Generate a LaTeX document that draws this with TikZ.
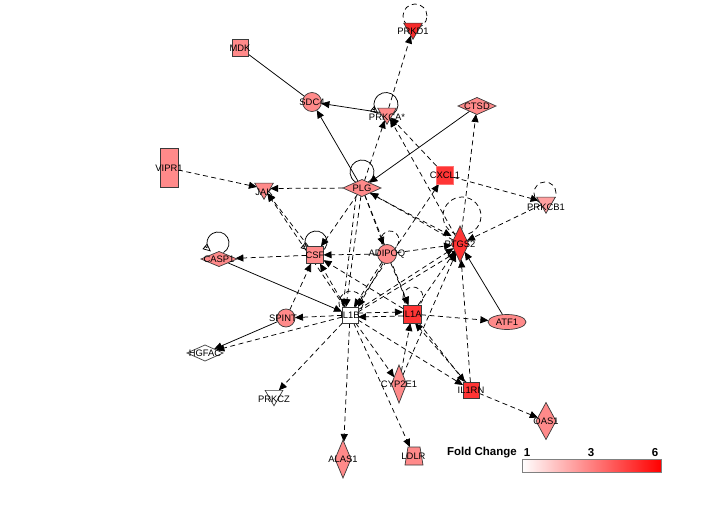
\documentclass[tikz,border=0pt]{standalone}
\usepackage{fontspec}
\setmainfont{Liberation Sans}
\usetikzlibrary{arrows.meta,shapes.geometric,backgrounds,calc}
\definecolor{pk}{HTML}{FF8A8A}
\definecolor{pkl}{HTML}{FFA0A0}
\definecolor{rd}{HTML}{FF3535}
\definecolor{rdd}{HTML}{F52A2A}
\definecolor{bd}{HTML}{3A3A3A}
\begin{document}
\begin{tikzpicture}[x=1pt,y=-1pt,
  nd/.style={draw=bd, line width=0.7pt, inner sep=0pt, outer sep=0pt},
  sq/.style={nd, rectangle, minimum width=17pt, minimum height=17pt},
  circ/.style={nd, circle, minimum size=19pt},
  dia/.style={nd, diamond, minimum width=37pt, minimum height=16pt},
  tdia/.style={nd, diamond, minimum width=16pt, minimum height=37pt},
  tri/.style={nd, regular polygon, regular polygon sides=3, shape border rotate=180, minimum size=21.5pt},
  lbl/.style={font=\fontsize{9.4}{10}\selectfont, text=black, inner sep=0pt},
  sl/.style={line width=0.75pt, draw=black},
  sa/.style={sl, -{Triangle[length=8pt,width=7pt]}},
  dl/.style={sl, dash pattern=on 5pt off 3.5pt},
  da/.style={sa, dash pattern=on 5pt off 3.5pt},
  lo/.style={sl, -{Triangle[open,length=8pt,width=7pt]}},
  legt/.style={font=\bfseries\fontsize{11.5}{12}\selectfont, inner sep=0pt}
]
\useasboundingbox (0,0) rectangle (720,514);

% nodes
\node[tri, fill=rdd, label={[lbl,yshift=-2.5pt]center:PRKD1}] (PRKD1) at (413,28.5) {};
\node[sq, fill=pk, minimum width=16pt, label={[lbl]center:MDK}] (MDK) at (240,48) {};
\node[circ, fill=pk, label={[lbl]center:SDC4}] (SDC4) at (312,102) {};
\node[tri, fill=pk, label={[lbl,yshift=-3.5pt]center:PRKCA*}] (PRKCA) at (387,113.5) {};
\node[dia, fill=pk, minimum width=38pt, minimum height=17pt, label={[lbl]center:CTSD}] (CTSD) at (477,106) {};
\node[nd, rectangle, fill=pk, minimum width=18pt, minimum height=39pt, label={[lbl]center:VIPR1}] (VIPR1) at (169,168) {};
\node[tri, fill=pk, label={[lbl,yshift=-4pt]center:JAK}] (JAK) at (264,188.5) {};
\node[dia, fill=pk, minimum width=38pt, minimum height=17pt, label={[lbl]center:PLG}] (PLG) at (362,188) {};
\node[sq, fill=rd, draw=rd!70!white, minimum height=18pt, label={[lbl]center:CXCL1}] (CXCL1) at (445,175) {};
\node[tri, fill=pkl, label={[lbl,yshift=-4.5pt]center:PRKCB1}] (PRKCB1) at (546,202.5) {};
\node[dia, fill=pk, minimum width=36pt, minimum height=15pt, label={[lbl]center:CASP1}] (CASP1) at (219,259) {};
\node[sq, fill=pk, label={[lbl]center:CSF}] (CSF) at (315,255) {};
\node[circ, fill=pk, label={[lbl]center:ADIPOQ}] (ADIPOQ) at (387,254) {};
\node[tdia, fill=rd, minimum width=17pt, minimum height=36pt, label={[lbl]center:PTGS2}] (PTGS2) at (460,244) {};
\node[sq, fill=white, minimum size=16pt, label={[lbl]center:IL1B}] (IL1B) at (350,315) {};
\node[circ, fill=pk, minimum size=18pt] (SPINT) at (286,318) {};
\node[lbl] (SPINTt) at (283,318) {SPINT};
\node[sq, fill=rd, minimum size=18pt, label={[lbl]center:IL1A}] (IL1A) at (412,314) {};
\node[nd, ellipse, fill=pk, minimum width=38pt, minimum height=15pt, label={[lbl]center:ATF1}] (ATF1) at (507,322) {};
\node[dia, fill=white, minimum width=36pt, minimum height=16pt, label={[lbl]center:HGFAC}] (HGFAC) at (205,353) {};
\node[tdia, fill=pk, minimum width=15pt, minimum height=38pt, label={[lbl]center:CYP2E1}] (CYP2E1) at (399,384) {};
\node[sq, fill=rd, minimum size=16pt, label={[lbl]center:IL1RN}] (IL1RN) at (471,390) {};
\node[tri, fill=white, minimum size=20.5pt, label={[lbl,yshift=-4pt]center:PRKCZ}] (PRKCZ) at (274,395.5) {};
\node[tdia, fill=pk, minimum width=20pt, minimum height=37pt, label={[lbl]center:OAS1}] (OAS1) at (546,421) {};
\node[tdia, fill=pk, minimum width=16pt, minimum height=38pt, label={[lbl]center:ALAS1}] (ALAS1) at (343,459) {};
\node[inner sep=0pt, outer sep=0pt, minimum width=18pt, minimum height=18pt] (LDLR) at (414,456) {};
\filldraw[nd, fill=pk] (LDLR.south west) -- (LDLR.south east) -- ([xshift=-3pt]LDLR.north east) -- ([xshift=3pt]LDLR.north west) -- cycle;
\node[lbl] (LDLRt) at (413.5,456) {LDLR};

% legend
\node[legt, anchor=east] (FC) at (517,453) {Fold Change};
\node[legt] (L1) at (527,453) {1};
\node[legt] (L3) at (591,453) {3};
\node[legt] (L6) at (655,453) {6};
\node[draw=gray, line width=0.7pt, minimum width=139pt, minimum height=13pt, inner sep=0pt, left color=white, right color=red] (BAR) at (591.5,465.5) {};

\begin{scope}[on background layer]
% self loops
\draw[dl] (PRKD1) ++(2pt,12.5pt) circle[radius=12pt];
\draw[lo] (PRKCA) ++(-1pt,9pt) ++(-50:12pt) arc[start angle=-50,end angle=230,radius=12pt];
\draw[sl] (PLG) ++(0pt,16pt) ++(-60:12pt) arc[start angle=-60,end angle=240,radius=12pt];
\draw[lo] (CASP1) ++(-1pt,16pt) ++(-60:11pt) arc[start angle=-60,end angle=230,radius=11pt];
\draw[lo] (CSF) ++(1pt,13pt) ++(-60:11pt) arc[start angle=-60,end angle=230,radius=11pt];
\draw[dl] (ADIPOQ) ++(3pt,14pt) ++(-40:9pt) arc[start angle=-40,end angle=220,radius=9pt];
\draw[dl] (PTGS2) ++(2pt,28pt) ++(-70:19pt) arc[start angle=-70,end angle=250,radius=19pt];
\draw[dl] (PRKCB1) ++(-1pt,9.5pt) circle[radius=11pt];
\draw[dl] (IL1A) ++(1pt,17pt) ++(-40:10pt) arc[start angle=-40,end angle=220,radius=10pt];
\draw[dl] (IL1B) ++(1pt,12pt) ++(-30:12pt) arc[start angle=-30,end angle=210,radius=12pt];

% solid connectors
\draw[sl] (MDK) -- (SDC4);
\draw[sa] (PRKCA) -- (SDC4);
\draw[sa] (PLG) -- (SDC4);
\draw[sa] (CTSD) -- (PLG);
\draw[sa] (CASP1) -- (IL1B);
\draw[sa] (SPINT) -- (HGFAC);
\draw[sa] (ATF1) -- (PTGS2);

% dashed connectors
\draw[da] (PRKCA) -- (PRKD1);
\draw[da] (PLG) -- (PRKCA);
\draw[da] (CXCL1) -- (PRKCA);
\draw[da] (PTGS2) -- (PRKCA);
\draw[da] (PLG) -- (JAK);
\draw[da] (VIPR1) -- (JAK);
\draw[da] (IL1B) -- (JAK);
\draw[da] (CSF) -- (JAK);
\draw[da] (PLG) -- (CSF);
\draw[da] (PLG) -- ([xshift=-4pt]IL1B.north);
\draw[da] ([xshift=-6pt]PLG.south) -- ([xshift=-7pt]IL1B.north);
\draw[da] (PLG) -- (ADIPOQ);
\draw[da] (PLG) -- (IL1A);
\draw[da] (PTGS2) -- (PLG);
\draw[da] ([xshift=8pt,yshift=3pt]PLG.south) -- ([yshift=8pt]PTGS2.west);
\draw[da] (IL1B) -- (CXCL1);
\draw[da] (CXCL1) -- (PRKCB1);
\draw[da] (PRKCB1) -- (PTGS2);
\draw[da] (PTGS2) -- (CTSD);
\draw[da] (ADIPOQ) -- (CSF);
\draw[da] (ADIPOQ) -- (PTGS2);
\draw[da] (CSF) -- (CASP1);
\draw[da] (SPINT) -- (CSF);
\draw[da] (IL1B) -- (CSF);
\draw[da] (IL1A) -- (CSF);
\draw[da] (ADIPOQ) -- ([xshift=4pt]IL1B.north);
\draw[da] ([xshift=-4pt]ADIPOQ.south) -- (IL1B.north east);
\draw[da] (ADIPOQ) -- (IL1A);
\draw[da] ([yshift=-2pt]IL1A.west) -- ([yshift=-2pt]IL1B.east);
\draw[da] ([yshift=2pt]IL1B.east) -- ([yshift=2pt]IL1A.west);
\draw[da] (IL1A) -- (ATF1);
\draw[da] (IL1A) -- (PTGS2);
\draw[da] (IL1B) -- (PTGS2);
\draw[da] ([yshift=3pt]IL1B.east) -- ([yshift=-6pt]PTGS2.center);
\draw[da] (IL1B) -- (SPINT);
\draw[da] (IL1B) -- (HGFAC);
\draw[da] (IL1B) -- (PRKCZ);
\draw[da] (IL1B) -- (ALAS1);
\draw[da] (IL1B) -- (LDLR);
\draw[da] (IL1B) -- (CYP2E1);
\draw[da] (IL1B) -- (IL1RN);
\draw[da] (CYP2E1) -- (IL1A);
\draw[da] (IL1A) -- (IL1RN);
\draw[da] ([xshift=3pt]IL1RN.north west) -- ([xshift=3pt]IL1A.south);
\draw[da] (IL1RN) -- (PTGS2);
\draw[da] (IL1RN) -- (OAS1);
\draw[da] (CYP2E1) -- (PTGS2);
\end{scope}
\end{tikzpicture}
\end{document}
